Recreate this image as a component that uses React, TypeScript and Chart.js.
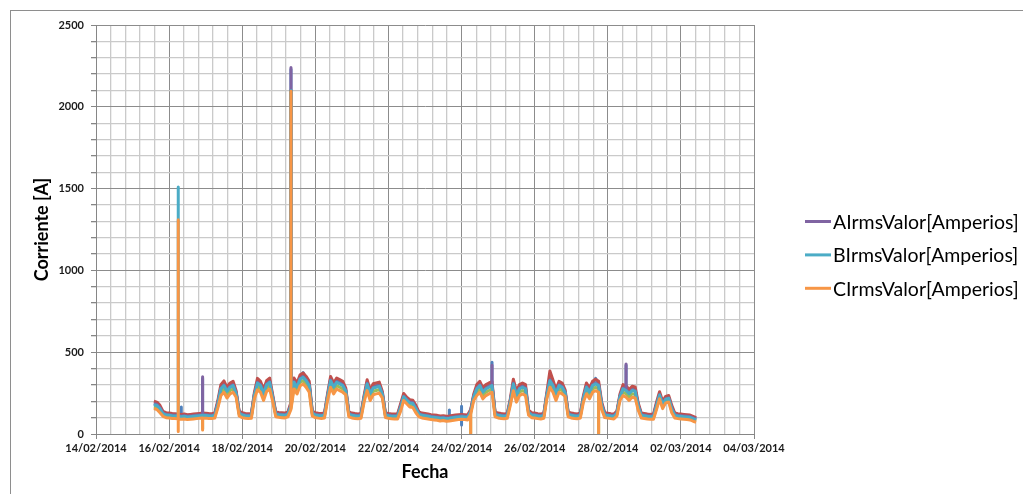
import React, { useEffect, useRef } from 'react';
import { Chart, registerables } from 'chart.js';

Chart.register(...registerables);

// X axis: days after 14/02/2014 00:00, labelled every two days
const DATE_LABELS = ['14/02/2014', '16/02/2014', '18/02/2014', '20/02/2014', '22/02/2014', '24/02/2014', '26/02/2014', '28/02/2014', '02/03/2014', '04/03/2014'];
const X_MAX_DAYS = 18;
const Y_MAX = 2500;

// samples every 2 hours, first sample 15/02/2014 14:00
const START_DAY = 1 + 14 / 24;
const STEP_DAYS = 2 / 24;

const A_LABEL = 'AIrmsValor[Amperios]';
const B_LABEL = 'BIrmsValor[Amperios]';
const C_LABEL = 'CIrmsValor[Amperios]';

// purple
const A_IRMS = [
  185, 180, 160, 128, 120,
  118, 115, 114, 112, 110, 112, 108, 110, 112, 114, 116, 118,
  117, 115, 114, 118, 190, 280, 300, 265, 290, 300, 250, 130,
  120, 116, 114, 116, 240, 315, 300, 250, 305, 320, 225, 125,
  122, 120, 118, 125, 180, 320, 290, 340, 350, 330, 300, 130,
  120, 117, 115, 118, 230, 330, 290, 320, 310, 300, 265, 125,
  118, 115, 113, 116, 220, 310, 250, 285, 290, 295, 245, 120,
  116, 113, 112, 112, 170, 230, 210, 195, 192, 160, 125, 118,
  115, 112, 108, 106, 104, 100, 102, 98, 100, 103, 106, 108,
  110, 108, 106, 140, 230, 280, 300, 260, 280, 290, 300, 125,
  118, 115, 113, 116, 200, 310, 240, 280, 290, 280, 135, 120,
  118, 114, 112, 116, 240, 330, 300, 250, 300, 290, 255, 125,
  118, 115, 113, 118, 220, 290, 260, 300, 310, 300, 180, 120,
  117, 114, 112, 130, 230, 280, 270, 250, 270, 265, 175, 118,
  115, 112, 110, 110, 180, 240, 185, 215, 220, 160, 118, 114,
  112, 110, 108, 106, 98, 90,
];
// teal
const B_IRMS = [
  179, 174, 154, 124, 116,
  114, 111, 110, 108, 106, 108, 104, 106, 108, 110, 112, 114,
  113, 111, 110, 114, 184, 276, 296, 261, 286, 296, 248, 126,
  116, 112, 110, 112, 238, 311, 296, 246, 301, 316, 223, 121,
  118, 116, 114, 121, 174, 316, 286, 336, 346, 326, 296, 126,
  116, 113, 111, 114, 228, 326, 286, 316, 306, 296, 263, 121,
  114, 111, 109, 112, 218, 306, 246, 281, 286, 291, 243, 116,
  112, 109, 108, 108, 164, 228, 208, 189, 186, 154, 121, 114,
  111, 108, 104, 102, 100, 96, 98, 94, 96, 99, 102, 104,
  106, 104, 102, 136, 228, 276, 296, 256, 276, 286, 296, 121,
  114, 111, 109, 112, 198, 306, 236, 276, 286, 276, 131, 116,
  114, 110, 108, 112, 238, 326, 296, 246, 296, 286, 253, 121,
  114, 111, 109, 114, 218, 286, 256, 296, 306, 296, 174, 116,
  113, 110, 108, 126, 228, 276, 266, 246, 266, 261, 169, 114,
  111, 108, 106, 106, 174, 238, 179, 213, 218, 154, 114, 110,
  108, 106, 104, 102, 94, 86,
];
// orange
const C_IRMS = [
  155, 150, 130, 108, 100,
  98, 95, 94, 92, 90, 92, 88, 90, 92, 94, 96, 98,
  97, 95, 94, 98, 160, 235, 255, 220, 245, 255, 225, 110,
  100, 96, 94, 96, 215, 270, 255, 205, 260, 275, 200, 105,
  102, 100, 98, 105, 150, 275, 245, 295, 305, 285, 255, 110,
  100, 97, 95, 98, 205, 285, 245, 275, 265, 255, 240, 105,
  98, 95, 93, 96, 195, 265, 205, 240, 245, 250, 220, 100,
  96, 93, 92, 92, 140, 205, 185, 165, 162, 130, 105, 98,
  95, 92, 88, 86, 84, 80, 82, 78, 80, 83, 86, 88,
  90, 88, 86, 120, 205, 235, 255, 215, 235, 245, 255, 105,
  98, 95, 93, 96, 175, 265, 195, 235, 245, 235, 115, 100,
  98, 94, 92, 96, 215, 285, 255, 205, 255, 245, 230, 105,
  98, 95, 93, 98, 195, 245, 215, 255, 265, 255, 150, 100,
  97, 94, 92, 110, 205, 235, 225, 205, 225, 220, 145, 98,
  95, 92, 90, 90, 150, 215, 155, 190, 195, 130, 98, 94,
  92, 90, 88, 86, 78, 72,
];
// blue (no legend entry)
const SERIE_1 = [
  189, 184, 164, 133, 125,
  123, 120, 119, 117, 115, 117, 113, 115, 117, 119, 121, 123,
  122, 120, 119, 123, 194, 286, 306, 271, 296, 306, 254, 135,
  125, 121, 119, 121, 244, 321, 306, 256, 311, 326, 229, 130,
  127, 125, 123, 130, 184, 326, 296, 350, 375, 336, 306, 135,
  125, 122, 120, 123, 234, 336, 296, 326, 316, 306, 269, 130,
  123, 120, 118, 121, 224, 316, 256, 291, 296, 301, 249, 125,
  121, 118, 117, 117, 174, 234, 214, 199, 196, 164, 130, 123,
  120, 117, 113, 111, 109, 105, 107, 103, 105, 108, 111, 113,
  115, 113, 111, 145, 234, 286, 306, 266, 286, 296, 306, 130,
  123, 120, 118, 121, 204, 316, 246, 286, 296, 286, 140, 125,
  123, 119, 117, 121, 244, 336, 306, 256, 306, 296, 259, 130,
  123, 120, 118, 123, 224, 296, 266, 306, 340, 306, 184, 125,
  122, 119, 117, 135, 234, 286, 276, 256, 276, 271, 179, 123,
  120, 117, 115, 115, 184, 244, 189, 219, 224, 164, 123, 119,
  117, 115, 113, 111, 103, 95,
];
// red (no legend entry)
const SERIE_2 = [
  200, 195, 175, 138, 130,
  128, 125, 124, 122, 120, 122, 118, 120, 122, 124, 126, 128,
  127, 125, 124, 128, 205, 302, 325, 285, 312, 322, 265, 140,
  130, 126, 124, 126, 255, 340, 322, 272, 326, 342, 240, 135,
  132, 130, 128, 135, 195, 342, 312, 362, 372, 352, 322, 140,
  130, 127, 125, 128, 245, 352, 312, 342, 332, 322, 280, 135,
  128, 125, 123, 126, 235, 332, 270, 307, 312, 317, 260, 130,
  126, 123, 122, 122, 185, 248, 225, 210, 207, 175, 135, 128,
  125, 122, 118, 116, 114, 110, 112, 108, 110, 113, 116, 118,
  120, 118, 116, 150, 245, 302, 322, 282, 302, 312, 320, 135,
  128, 125, 123, 126, 215, 335, 262, 302, 312, 302, 145, 130,
  128, 124, 122, 126, 255, 385, 330, 272, 322, 312, 270, 135,
  128, 125, 123, 128, 235, 312, 282, 322, 335, 322, 195, 130,
  127, 124, 122, 140, 245, 302, 295, 272, 292, 287, 190, 128,
  125, 122, 120, 120, 195, 258, 200, 230, 235, 175, 128, 124,
  122, 120, 118, 116, 108, 100,
];
// green (no legend entry)
const SERIE_3 = [
  165, 160, 140, 118, 110,
  108, 105, 104, 102, 100, 102, 98, 100, 102, 104, 106, 108,
  107, 105, 104, 108, 170, 256, 276, 241, 266, 276, 238, 120,
  110, 106, 104, 106, 228, 291, 276, 226, 281, 296, 213, 115,
  112, 110, 108, 115, 160, 296, 266, 316, 326, 306, 276, 120,
  110, 107, 105, 108, 218, 306, 266, 296, 286, 276, 253, 115,
  108, 105, 103, 106, 208, 286, 226, 261, 266, 271, 233, 110,
  106, 103, 102, 102, 150, 218, 198, 175, 172, 140, 115, 108,
  105, 102, 98, 96, 94, 90, 92, 88, 90, 93, 96, 98,
  100, 98, 96, 130, 218, 256, 276, 236, 256, 266, 276, 115,
  108, 105, 103, 106, 188, 286, 216, 256, 266, 256, 125, 110,
  108, 104, 102, 106, 228, 306, 276, 226, 276, 266, 243, 115,
  108, 105, 103, 108, 208, 266, 236, 276, 286, 276, 160, 110,
  107, 104, 102, 120, 218, 256, 246, 226, 246, 241, 155, 108,
  105, 102, 100, 100, 160, 228, 165, 203, 208, 140, 108, 104,
  102, 100, 98, 96, 88, 80,
];

// short excursions (sample index -> extra readings taken at that instant)
const A_SPIKES: Record<number, number[]> = { 16: [350], 45: [2240], 111: [420], 155: [428] };
const B_SPIKES: Record<number, number[]> = { 8: [1510], 45: [2100] };
const C_SPIKES: Record<number, number[]> = { 8: [1310, 15], 16: [25], 45: [2095], 104: [5], 146: [5] };
const SERIE_1_SPIKES: Record<number, number[]> = { 9: [165], 16: [340], 45: [2230], 97: [147], 101: [170, 55], 111: [438], 155: [420] };
const SERIE_2_SPIKES: Record<number, number[]> = { 45: [2100] };
const SERIE_3_SPIKES: Record<number, number[]> = { 16: [30], 45: [2100], 104: [5], 146: [5] };

function toPoints(values: number[], spikes: Record<number, number[]>) {
  const pts: { x: number; y: number }[] = [];
  values.forEach((v, i) => {
    const x = START_DAY + i * STEP_DAYS;
    pts.push({ x, y: v });
    const s = spikes[i];
    if (s) {
      s.forEach((y) => pts.push({ x, y }));
      pts.push({ x, y: v });
    }
  });
  return pts;
}

const LEGEND_LABELS = [A_LABEL, B_LABEL, C_LABEL];

const isMultiple = (v: number, m: number) => Math.abs(v / m - Math.round(v / m)) < 1e-6;

const legendPlugin = {
  id: 'sideLegend',
  afterDraw(chart: any) {
    const { ctx, chartArea } = chart;
    ctx.save();
    ctx.font = '19.5px Lato';
    ctx.textBaseline = 'middle';
    ctx.textAlign = 'left';
    const x0 = chartArea.right + 51;
    LEGEND_LABELS.forEach((label, i) => {
      const ds = chart.data.datasets.find((d: any) => d.label === label);
      const y = 221.5 + i * 33.4;
      ctx.strokeStyle = ds.borderColor;
      ctx.lineWidth = 3;
      ctx.beginPath();
      ctx.moveTo(x0, y);
      ctx.lineTo(x0 + 26, y);
      ctx.stroke();
      ctx.fillStyle = '#000';
      ctx.fillText(label, x0 + 28, y + 1);
    });
    ctx.restore();
  },
};

export default function App() {
  const ref = useRef<HTMLCanvasElement | null>(null);
  useEffect(() => {
    if (!ref.current) return;
    const line = (label: string, values: number[], spikes: Record<number, number[]>, color: string) => ({
      label,
      data: toPoints(values, spikes),
      borderColor: color,
      backgroundColor: color,
      borderWidth: 3,
      pointRadius: 0,
      tension: 0,
      borderJoinStyle: 'round' as const,
      fill: false,
    });
    const chart = new Chart(ref.current, {
      type: 'line',
      data: {
        // first dataset is painted last (on top)
        datasets: [
          line(C_LABEL, C_IRMS, C_SPIKES, '#F79646'),
          line(B_LABEL, B_IRMS, B_SPIKES, '#4BACC6'),
          line(A_LABEL, A_IRMS, A_SPIKES, '#8064A2'),
          line('Serie3', SERIE_3, SERIE_3_SPIKES, '#9BBB59'),
          line('Serie2', SERIE_2, SERIE_2_SPIKES, '#C0504D'),
          line('Serie1', SERIE_1, SERIE_1_SPIKES, '#4F81BD'),
        ],
      },
      options: {
        responsive: false,
        animation: false,
        events: [],
        layout: { padding: { top: 25, right: 269, bottom: 0, left: 0 } },
        plugins: { legend: { display: false }, tooltip: { enabled: false } },
        scales: {
          x: {
            type: 'linear',
            min: 0,
            max: X_MAX_DAYS,
            afterFit: (s: any) => { s.height = 60; },
            ticks: {
              stepSize: 0.4,
              maxTicksLimit: 100,
              autoSkip: false,
              maxRotation: 0,
              minRotation: 0,
              padding: 3,
              color: '#1a1a1a',
              font: { family: 'Lato', size: 11, weight: 'bold' },
              callback: (v: any) => (isMultiple(Number(v), 2) ? DATE_LABELS[Math.round(Number(v) / 2)] : ''),
            },
            grid: {
              color: (c: any) => (c.tick && isMultiple(c.tick.value, 2) ? '#8c8c8c' : '#cacaca'),
              lineWidth: (c: any) => (c.tick && isMultiple(c.tick.value, 2) ? 1 : 1.3),
              tickColor: (c: any) => (c.tick && isMultiple(c.tick.value, 2) ? '#868686' : 'rgba(0,0,0,0)'),
              tickLength: 5,
            },
            border: { color: '#868686', width: 1 },
            title: {
              display: true,
              text: 'Fecha',
              color: '#000',
              font: { family: 'Lato', size: 18, weight: 'bold' },
              padding: { top: 0, bottom: 11 },
            },
          },
          y: {
            type: 'linear',
            min: 0,
            max: Y_MAX,
            afterFit: (s: any) => { s.width = 96; },
            ticks: {
              stepSize: 100,
              autoSkip: false,
              padding: 7,
              color: '#1a1a1a',
              font: { family: 'Lato', size: 11, weight: 'bold' },
              callback: (v: any) => (isMultiple(Number(v), 500) ? String(Math.round(Number(v))) : ''),
            },
            grid: {
              color: (c: any) => (c.tick && isMultiple(c.tick.value, 500) ? '#8c8c8c' : '#cacaca'),
              lineWidth: (c: any) => (c.tick && isMultiple(c.tick.value, 500) ? 1 : 1.3),
              tickColor: '#868686',
              tickLength: 5,
            },
            border: { color: '#868686', width: 1 },
            title: {
              display: true,
              text: 'Corriente [A]',
              color: '#000',
              font: { family: 'Lato', size: 18, weight: 'bold' },
              padding: { top: 31, bottom: 0 },
            },
          },
        },
      },
      plugins: [legendPlugin],
    });
    return () => chart.destroy();
  }, []);

  return (
    <div style={{ position: 'fixed', left: 0, top: 0, width: 1023, height: 494, background: '#fff', overflow: 'hidden' }}>
      <div style={{ position: 'absolute', left: 10, top: 10, width: 1030, height: 500, border: '1px solid #8e8e8e' }} />
      <canvas ref={ref} width={1023} height={494} style={{ position: 'absolute', left: 0, top: 0, width: 1023, height: 494 }} />
    </div>
  );
}
